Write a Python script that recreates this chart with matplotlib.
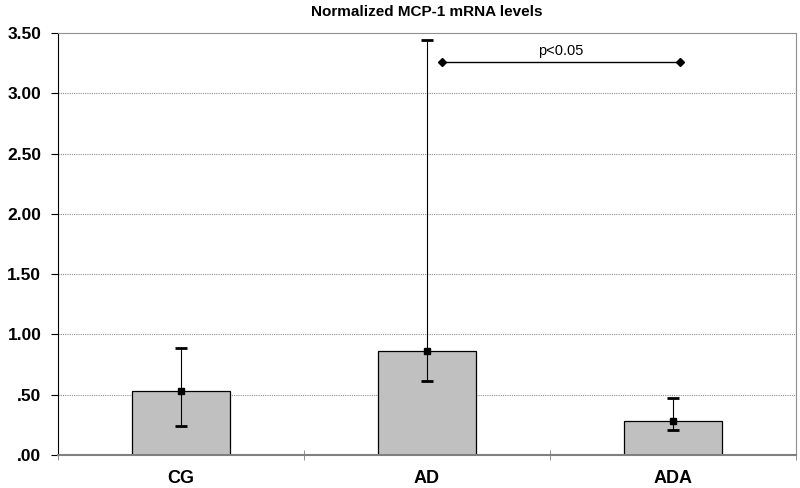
import matplotlib
matplotlib.use("Agg")
import matplotlib.pyplot as plt
import numpy as np

categories = ["CG", "AD", "ADA"]
means = [0.53, 0.86, 0.28]
err_low = [0.24, 0.61, 0.21]
err_high = [0.89, 3.44, 0.47]
yticks = [0.0, 0.5, 1.0, 1.5, 2.0, 2.5, 3.0, 3.5]
yticklabels = [".00", ".50", "1.00", "1.50", "2.00", "2.50", "3.00", "3.50"]
sig_y = 3.26
sig_x = [1.06, 2.03]
sig_label = "p<0.05"

plt.rcParams['font.family'] = ['Liberation Sans', 'DejaVu Sans']

fig = plt.figure(figsize=(8, 4.88), dpi=100)
ax = fig.add_axes([58/800, 1-455/488, (796-58)/800, (455-33)/488])

x = np.arange(len(categories))
ax.bar(x, means, width=0.40, color="#c0c0c0", edgecolor="black", linewidth=0.9, zorder=2)
means_a = np.array(means)
yerr = np.vstack([means_a - np.array(err_low), np.array(err_high) - means_a])
ax.errorbar(x, means, yerr=yerr, fmt='s', color='black', markersize=5,
            ecolor='black', elinewidth=0.8, capsize=4, capthick=2, zorder=3)

ax.plot(sig_x, [sig_y, sig_y], color='black', lw=1, marker='D', markersize=4, zorder=3)
ax.text(np.mean(sig_x), sig_y + 0.035, sig_label, ha='center', va='bottom', fontsize=10.5)

ax.set_xlim(-0.5, 2.5)
ax.set_ylim(0, 3.5)
ax.set_yticks(yticks)
ax.set_yticklabels(yticklabels, fontsize=12.5, fontweight='bold')
ax.set_xticks(x)
ax.set_xticklabels(categories, fontsize=13, fontweight='bold')
ax.tick_params(axis='x', length=0, pad=11)
ax.set_xticks([-0.5, 0.5, 1.5, 2.5], minor=True)
ax.tick_params(axis='x', which='minor', length=7, direction='inout', color='#808080')
ax.tick_params(axis='y', length=5, direction='out', color='black', pad=7)

for yv in yticks[1:-1]:
    ax.axhline(yv, color='#909090', lw=0.8, ls=(0, (1, 1)), zorder=1)

ax.spines['left'].set_color('black')
ax.spines['bottom'].set_color('#808080')
ax.spines['bottom'].set_linewidth(1.5)
ax.spines['top'].set_color('#909090')
ax.spines['right'].set_color('#909090')

fig.text((58+796)/2/800, 1-12/488, "Normalized MCP-1 mRNA levels", ha='center', va='center',
         fontsize=11, fontweight='bold')

fig.savefig("out.png", dpi=100)
